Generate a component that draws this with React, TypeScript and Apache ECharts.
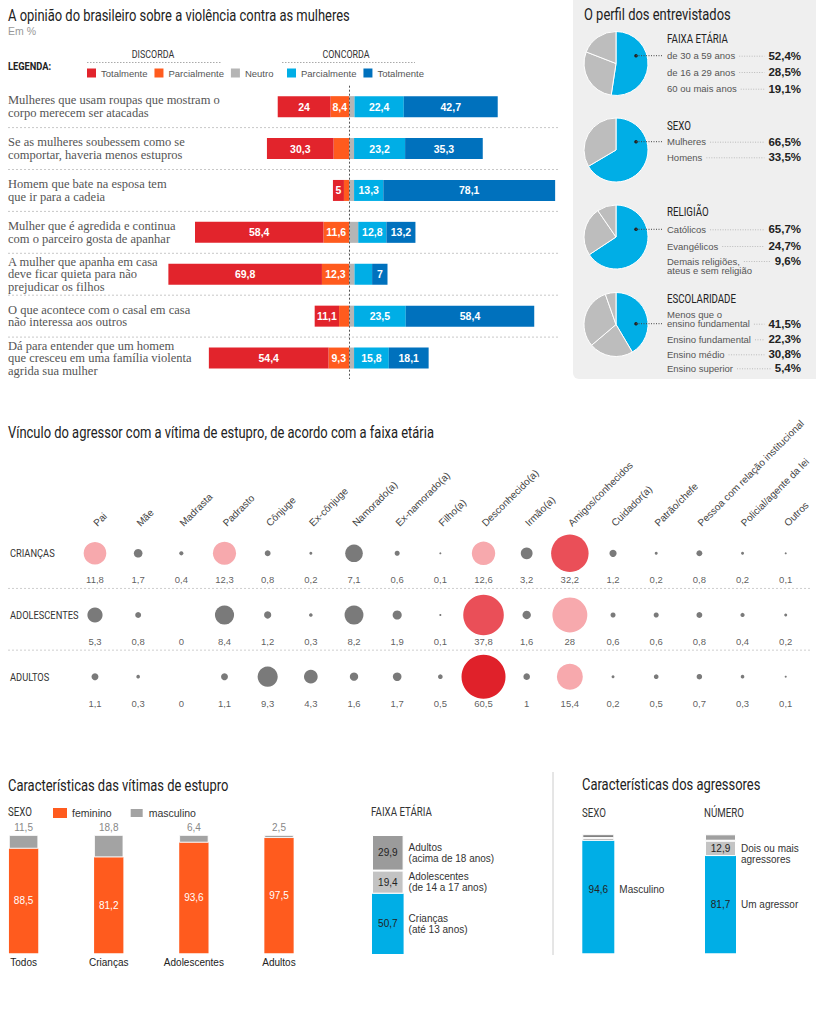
import React, { useEffect, useRef } from "react";
import * as echarts from "echarts";

// ---------------- DATA ----------------
const questions = [
  "Mulheres que usam roupas que mostram o\ncorpo merecem ser atacadas",
  "Se as mulheres soubessem como se\ncomportar, haveria menos estupros",
  "Homem que bate na esposa tem\nque ir para a cadeia",
  "Mulher que é agredida e continua\ncom o parceiro gosta de apanhar",
  "A mulher que apanha em casa\ndeve ficar quieta para não\nprejudicar os filhos",
  "O que acontece com o casal em casa\nnão interessa aos outros",
  "Dá para entender que um homem\nque cresceu em uma família violenta\nagrida sua mulher",
];
const discordaTotal = [24, 30.3, 5, 58.4, 69.8, 11.1, 54.4];
const discordaParcial = [8.4, 7, 2.3, 11.6, 12.3, 4.5, 9.3];
const neutro = [2.5, 2.3, 2.3, 4.2, 2.5, 2.3, 2.3];
const concordaParcial = [22.4, 23.2, 13.3, 12.8, 8, 23.5, 15.8];
const concordaTotal = [42.7, 35.3, 78.1, 13.2, 7, 58.4, 18.1];
// values whose number is printed in the reference (others)
const discordaParcialPrinted = [true, false, false, true, true, false, true];
const concordaParcialPrinted = [true, true, true, true, false, true, true];

const faixaEtariaLabels = ["de 30 a 59 anos", "de 16 a 29 anos", "60 ou mais anos"];
const faixaEtariaValues = [52.4, 28.5, 19.1];
const sexoLabels = ["Mulheres", "Homens"];
const sexoValues = [66.5, 33.5];
const religiaoLabels = ["Católicos", "Evangélicos", "Demais religiões,\nateus e sem religião"];
const religiaoValues = [65.7, 24.7, 9.6];
const escolaridadeLabels = ["Menos que o\nensino fundamental", "Ensino fundamental", "Ensino médio", "Ensino superior"];
const escolaridadeValues = [41.5, 22.3, 30.8, 5.4];

const vinculos = [
  "Pai", "Mãe", "Madrasta", "Padrasto", "Cônjuge", "Ex-cônjuge", "Namorado(a)", "Ex-namorado(a)",
  "Filho(a)", "Desconhecido(a)", "Irmão(a)", "Amigos/conhecidos", "Cuidador(a)", "Patrão/chefe",
  "Pessoa com relação institucional", "Policial/agente da lei", "Outros",
];
const faixas = ["CRIANÇAS", "ADOLESCENTES", "ADULTOS"];
const criancas = [11.8, 1.7, 0.4, 12.3, 0.8, 0.2, 7.1, 0.6, 0.1, 12.6, 3.2, 32.2, 1.2, 0.2, 0.8, 0.2, 0.1];
const adolescentes = [5.3, 0.8, 0, 8.4, 1.2, 0.3, 8.2, 1.9, 0.1, 37.8, 1.6, 28, 0.6, 0.6, 0.8, 0.4, 0.2];
const adultos = [1.1, 0.3, 0, 1.1, 9.3, 4.3, 1.6, 1.7, 0.5, 60.5, 1, 15.4, 0.2, 0.5, 0.7, 0.3, 0.1];

const vitimaCats = ["Todos", "Crianças", "Adolescentes", "Adultos"];
const vitimaFeminino = [88.5, 81.2, 93.6, 97.5];
const vitimaMasculino = [11.5, 18.8, 6.4, 2.5];

const faixaVitimaLabels = ["Crianças\n(até 13 anos)", "Adolescentes\n(de 14 a 17 anos)", "Adultos\n(acima de 18 anos)"];
const faixaVitimaValues = [50.7, 19.4, 29.9];

const agressorSexoLabels = ["Masculino", "", ""];
const agressorSexoValues = [94.6, 2.4, 3.0];
const agressorNumeroLabels = ["Um agressor", "Dois ou mais\nagressores", ""];
const agressorNumeroValues = [81.7, 12.9, 5.4];

// ---------------- STYLE ----------------
const W = 816;
const H = 1024;
const BLUE = "#00aee6";
const DBLUE = "#0071bd";
const RED = "#e2242c";
const ORANGE = "#ff5b1e";
const NEUTRAL = "#b5b5b5";
const SANS = '"Liberation Sans", Arial, sans-serif';
const SERIF = '"Liberation Serif", "Times New Roman", serif';
const COND = "Roboto, sans-serif";

const fmt = (v: number) => String(v).replace(".", ",");

export default function App() {
  const ref = useRef<HTMLDivElement>(null);

  useEffect(() => {
    const el = ref.current!;
    const chart = echarts.init(el, null, { renderer: "svg", width: W, height: H });
    const ctx = document.createElement("canvas").getContext("2d")!;
    const measure = (t: string, font: string) => {
      ctx.font = font;
      return ctx.measureText(t).width;
    };
    const title1 = "A opinião do brasileiro sobre a violência contra as mulheres";
    const k = 342 / measure(title1, "16px Roboto");

    const ctext = (text: string, x: number, y: number, size: number, o: any = {}) => ({
      type: "text",
      x,
      y,
      scaleX: k,
      silent: true,
      style: {
        text,
        x: 0,
        y: 0,
        fontSize: size,
        fontFamily: COND,
        fontWeight: o.bold ? "bold" : "normal",
        fill: o.fill || "#222",
        align: o.align || "left",
        verticalAlign: "middle",
      },
    });
    const ptext = (text: string, x: number, y: number, size: number, o: any = {}) => ({
      type: "text",
      x,
      y,
      silent: true,
      style: {
        text,
        x: 0,
        y: 0,
        fontSize: size,
        fontFamily: SANS,
        fontWeight: o.bold ? "bold" : "normal",
        fill: o.fill || "#555",
        align: o.align || "left",
        verticalAlign: "middle",
      },
    });
    const line = (x1: number, y1: number, x2: number, y2: number, stroke: string, dash?: number[]) => ({
      type: "line",
      silent: true,
      shape: { x1, y1, x2, y2 },
      style: { stroke, lineWidth: 1, lineDash: dash || null },
    });

    // ---- layout constants ----
    const divTop = 85.7;
    const divRow = 41.9;
    const divLeft = 162;
    const divWidth = 396;
    const bubTop = 528.6;
    const bubRow = 61.7;
    const bubMin = -0.4;
    const rowY = (r: number) => bubTop + (r - bubMin) * bubRow;

    const graphics: any[] = [];
    // right panel background
    graphics.push({
      type: "rect",
      silent: true,
      z: -10,
      shape: { x: 573, y: 0, width: 243, height: 379, r: [0, 0, 0, 6] },
      style: { fill: "#efefef" },
    });
    // section 1 header
    graphics.push(ctext(title1, 8, 16, 16));
    graphics.push(ptext("Em %", 8, 31, 10.5, { fill: "#999" }));
    graphics.push(ctext("LEGENDA:", 8, 66, 11.5, { bold: true }));
    graphics.push(ctext("DISCORDA", 153, 54, 11, { align: "center", fill: "#333" }));
    graphics.push(ctext("CONCORDA", 346, 54, 11, { align: "center", fill: "#333" }));
    graphics.push(line(87, 62.5, 222, 62.5, "#aaa", [1.5, 1.5]));
    graphics.push(line(282, 62.5, 415, 62.5, "#aaa", [1.5, 1.5]));
    for (let i = 1; i < questions.length; i++) {
      const y = divTop + i * divRow;
      graphics.push(line(8, y, 558, y, "#c8c8c8", [2, 2]));
    }

    // right panel
    graphics.push(ctext("O perfil dos entrevistados", 584, 15.5, 16));
    const blocks = [
      { title: "FAIXA ETÁRIA", labels: faixaEtariaLabels, values: faixaEtariaValues },
      { title: "SEXO", labels: sexoLabels, values: sexoValues },
      { title: "RELIGIÃO", labels: religiaoLabels, values: religiaoValues },
      { title: "ESCOLARIDADE", labels: escolaridadeLabels, values: escolaridadeValues },
    ];
    const pieCX = 616;
    const pieCY = [63.5, 150, 237, 324.5];
    const headY = [39, 126, 211.7, 298.7];
    const itemY = [[55.7, 72, 88.7], [141.7, 157.3], [229.3, 246, 261], [314, 339.3, 354.3, 368.3]];
    const valueLine = [[0, 0, 0], [0, 0], [0, 0, 0], [1, 0, 0, 0]];
    const LH = 9.7;
    const labelX = 667;
    const valueX = 801;
    const lblFont = '9.5px "Liberation Sans"';
    const valFont = 'bold 11.5px "Liberation Sans"';
    blocks.forEach((b, i) => {
      graphics.push(ctext(b.title, labelX, headY[i], 12));
      b.labels.forEach((lab, j) => {
        const lines = lab.split("\n");
        const y0 = itemY[i][j];
        lines.forEach((ln, l) => graphics.push(ptext(ln, labelX, y0 + l * LH, 9.5, { fill: "#555" })));
        const vl = valueLine[i][j];
        const vy = y0 + vl * LH;
        const vtxt = fmt(b.values[j]) + "%";
        graphics.push(ptext(vtxt, valueX, vy, 11.5, { bold: true, fill: "#222", align: "right" }));
        const x1 = labelX + measure(lines[vl], lblFont) + 4;
        const x2 = valueX - measure(vtxt, valFont) - 4;
        graphics.push(line(x1, vy + 0.5, x2, vy + 0.5, "#bbb", [1, 1.5]));
        if (j === 0) {
          graphics.push({ type: "circle", silent: true, z: 5, shape: { cx: 636, cy: vy, r: 1.8 }, style: { fill: "#222" } });
          graphics.push({ ...line(636, vy, 663, vy, "#444", [1, 1.5]), z: 5 });
        }
      });
    });

    // section 2
    graphics.push(ctext("Vínculo do agressor com a vítima de estupro, de acordo com a faixa etária", 8, 433, 16));
    faixas.forEach((f, r) => graphics.push(ctext(f, 10, rowY(r), 11.5, { fill: "#333" })));
    [0, 1].forEach((r) => {
      const y = rowY(r) + 0.57 * bubRow;
      graphics.push(line(8, y, 810, y, "#cfcfcf", [2, 2]));
    });

    // section 3
    graphics.push(ctext("Características das vítimas de estupro", 8, 786, 16));
    graphics.push(ctext("SEXO", 8, 812, 12, { fill: "#333" }));
    graphics.push(ctext("FAIXA ETÁRIA", 371, 812, 12, { fill: "#333" }));
    graphics.push(line(553, 772, 553, 955, "#cccccc"));
    graphics.push(ctext("Características dos agressores", 582, 785, 16));
    graphics.push(ctext("SEXO", 582, 812.7, 12, { fill: "#333" }));
    graphics.push(ctext("NÚMERO", 704, 812.7, 12, { fill: "#333" }));

    // ---------------- SERIES ----------------
    const series: any[] = [];
    const divBase = { type: "bar", xAxisIndex: 0, yAxisIndex: 0, stack: "div", barWidth: 21, silent: true };
    const divLabel = {
      show: true,
      position: "inside",
      color: "#fff",
      fontWeight: "bold",
      fontSize: 10.5,
      fontFamily: SANS,
      formatter: (p: any) => fmt(Math.abs(p.value)),
    };
    series.push({
      ...divBase,
      name: "Discorda parcialmente",
      itemStyle: { color: ORANGE },
      label: divLabel,
      data: discordaParcial.map((v, i) => ({ value: -v, label: { show: discordaParcialPrinted[i] } })),
    });
    series.push({
      ...divBase,
      name: "Discorda totalmente",
      itemStyle: { color: RED },
      label: divLabel,
      data: discordaTotal.map((v) => -v),
    });
    series.push({
      ...divBase,
      name: "Neutro",
      itemStyle: { color: NEUTRAL },
      label: { show: false },
      data: neutro,
      markLine: {
        silent: true,
        symbol: ["none", "none"],
        label: { show: false },
        lineStyle: { color: "#555", type: [2, 2], width: 1 },
        data: [{ xAxis: 0 }],
      },
    });
    series.push({
      ...divBase,
      name: "Concorda parcialmente",
      itemStyle: { color: BLUE },
      label: divLabel,
      data: concordaParcial.map((v, i) => ({ value: v, label: { show: concordaParcialPrinted[i] } })),
    });
    series.push({
      ...divBase,
      name: "Concorda totalmente",
      itemStyle: { color: DBLUE },
      label: divLabel,
      data: concordaTotal,
    });

    // pies
    blocks.forEach((b, i) => {
      series.push({
        type: "pie",
        name: b.title,
        center: [pieCX, pieCY[i]],
        radius: 32,
        startAngle: 90,
        clockwise: true,
        silent: true,
        label: { show: false },
        labelLine: { show: false },
        itemStyle: { borderColor: "#fff", borderWidth: 1 },
        data: b.values.map((v, j) => ({ name: b.labels[j], value: v, itemStyle: { color: j === 0 ? BLUE : "#bdbdbd" } })),
      });
    });

    // bubbles
    const bubbleColor = (v: number) => (v >= 50 ? "#e0212a" : v >= 30 ? "#ea4f58" : v >= 10 ? "#f7a9ad" : "#7a7a7a");
    const rows = [criancas, adolescentes, adultos];
    const bubbleData: any[] = [];
    const valueData: any[] = [];
    rows.forEach((arr, r) =>
      arr.forEach((v, c) => {
        if (v > 0) bubbleData.push([c, r, v]);
        valueData.push([c, r + 0.43, v]);
      })
    );
    series.push({
      type: "scatter",
      name: "bolhas",
      xAxisIndex: 1,
      yAxisIndex: 1,
      silent: true,
      clip: false,
      data: bubbleData,
      symbolSize: (d: any) => Math.min(6.6 * Math.sqrt(d[2]), 44),
      itemStyle: { color: (p: any) => bubbleColor(p.value[2]), opacity: 1 },
    });
    series.push({
      type: "scatter",
      name: "valores",
      xAxisIndex: 1,
      yAxisIndex: 1,
      silent: true,
      clip: false,
      data: valueData,
      symbolSize: 1,
      itemStyle: { color: "rgba(0,0,0,0)" },
      label: {
        show: true,
        position: "inside",
        color: "#333",
        fontSize: 9.5,
        fontFamily: SANS,
        formatter: (p: any) => fmt(p.value[2]),
      },
    });

    // victims by sex
    series.push({
      type: "bar",
      name: "feminino",
      xAxisIndex: 2,
      yAxisIndex: 2,
      stack: "vit",
      barWidth: 29.3,
      clip: false,
      silent: true,
      data: vitimaFeminino,
      itemStyle: { color: ORANGE },
      label: { show: true, position: "inside", color: "#fff", fontSize: 10, fontFamily: SANS, formatter: (p: any) => fmt(p.value) },
    });
    series.push({
      type: "bar",
      name: "masculino",
      xAxisIndex: 2,
      yAxisIndex: 2,
      stack: "vit",
      barWidth: 29.3,
      clip: false,
      silent: true,
      data: vitimaMasculino,
      itemStyle: { color: "#a3a3a3", borderColor: "#fff", borderWidth: 0.8 },
      label: { show: true, position: "top", distance: 3, color: "#888", fontSize: 10, fontFamily: SANS, formatter: (p: any) => fmt(p.value) },
    });

    const singleStack = (
      ax: number,
      values: number[],
      colors: string[],
      names: string[],
      printed: boolean[],
      valueOffsets: number[][],
      labelOffsets: number[][],
      bw: number
    ) => {
      values.forEach((v, i) => {
        series.push({
          type: "bar",
          name: `seg${ax}-${i}`,
          xAxisIndex: ax,
          yAxisIndex: ax,
          stack: `st${ax}`,
          barWidth: bw,
          barGap: "-100%",
          silent: true,
          clip: false,
          itemStyle: { color: colors[i], borderColor: "#fff", borderWidth: i > 0 ? 1 : 0 },
          label: {
            show: printed[i],
            position: "inside",
            color: "#222",
            fontSize: 10,
            fontFamily: SANS,
            offset: valueOffsets[i],
            formatter: () => fmt(v),
          },
          data: [v],
        });
      });
      values.forEach((v, i) => {
        series.push({
          type: "bar",
          name: `lab${ax}-${i}`,
          xAxisIndex: ax,
          yAxisIndex: ax,
          stack: `ov${ax}`,
          barWidth: bw,
          barGap: "-100%",
          silent: true,
          clip: false,
          itemStyle: { color: "rgba(0,0,0,0)" },
          label: {
            show: names[i] !== "",
            position: "right",
            distance: 5,
            color: "#333",
            fontSize: 10,
            lineHeight: 11,
            fontFamily: SANS,
            offset: labelOffsets[i],
            formatter: () => names[i],
          },
          data: [v],
        });
      });
    };
    singleStack(3, faixaVitimaValues, [BLUE, "#c3c3c3", "#9b9b9b"], faixaVitimaLabels, [true, true, true],
      [[0, 0], [0, 0], [0, 0]], [[0, 0], [0, 0], [0, 0]], 31.6);
    singleStack(4, agressorSexoValues, [BLUE, "#a8a8a8", "#6e6e6e"], agressorSexoLabels, [true, false, false],
      [[0, -8], [0, 0], [0, 0]], [[0, -8], [0, 0], [0, 0]], 32);
    singleStack(5, agressorNumeroValues, [BLUE, "#c4c4c4", "#a0a0a0"], agressorNumeroLabels, [true, true, false],
      [[0, 0], [0, 0], [0, 0]], [[0, 0], [0, 5.5], [0, 0]], 31);

    const legendNames: Record<string, string> = {
      "Discorda totalmente": "Totalmente",
      "Discorda parcialmente": "Parcialmente",
      Neutro: "Neutro",
      "Concorda parcialmente": "Parcialmente",
      "Concorda totalmente": "Totalmente",
    };
    const legendBase = {
      orient: "horizontal",
      selectedMode: false,
      icon: "rect",
      itemWidth: 9,
      itemHeight: 9,
      itemGap: 7,
      padding: 0,
      formatter: (n: string) => legendNames[n] || n,
      textStyle: { color: "#555", fontSize: 9.5, fontFamily: SANS },
    };

    const hiddenCat = (gi: number) => ({ gridIndex: gi, type: "category", data: [""], show: false });
    const hiddenVal = (gi: number) => ({ gridIndex: gi, type: "value", min: 0, max: 100, show: false });

    const option: any = {
      animation: false,
      backgroundColor: "#fff",
      textStyle: { fontFamily: SANS },
      legend: [
        { ...legendBase, left: 87, top: 68, data: ["Discorda totalmente", "Discorda parcialmente", "Neutro"] },
        { ...legendBase, left: 287, top: 68, data: ["Concorda parcialmente", "Concorda totalmente"] },
        {
          ...legendBase,
          left: 53,
          top: 807,
          itemWidth: 14,
          itemHeight: 10,
          itemGap: 17,
          data: ["feminino", "masculino"],
          textStyle: { color: "#333", fontSize: 10.5, fontFamily: SANS },
        },
      ],
      grid: [
        { left: divLeft, top: divTop, width: divWidth, height: divRow * questions.length },
        { left: 73.4, top: bubTop, width: 733.9, height: 206.7 },
        { left: 23.6, top: 835, width: 255.4, height: 118.3 },
        { left: 372, top: 835, width: 31.6, height: 119 },
        { left: 582.3, top: 834.3, width: 32, height: 119 },
        { left: 705, top: 834.3, width: 31, height: 119 },
      ],
      xAxis: [
        { gridIndex: 0, type: "value", min: -85, max: 95, show: false },
        {
          gridIndex: 1,
          type: "category",
          data: vinculos,
          position: "top",
          axisLine: { show: false },
          axisTick: { show: false },
          axisLabel: { interval: 0, rotate: 45, margin: 4, color: "#444", fontSize: 10, fontFamily: SANS },
        },
        {
          gridIndex: 2,
          type: "category",
          data: vitimaCats,
          boundaryGap: false,
          axisLine: { show: false },
          axisTick: { show: false },
          axisLabel: { interval: 0, margin: 4, color: "#222", fontSize: 10, fontFamily: SANS },
        },
        hiddenCat(3),
        hiddenCat(4),
        hiddenCat(5),
      ],
      yAxis: [
        {
          gridIndex: 0,
          type: "category",
          data: questions,
          inverse: true,
          axisLine: { show: false },
          axisTick: { show: false },
          splitLine: { show: false },
          axisLabel: {
            interval: 0,
            margin: divLeft - 8,
            align: "left",
            color: "#555",
            fontSize: 12.5,
            lineHeight: 12.5,
            fontFamily: SERIF,
          },
        },
        { gridIndex: 1, type: "value", min: bubMin, max: 2.95, inverse: true, show: false },
        hiddenVal(2),
        hiddenVal(3),
        hiddenVal(4),
        hiddenVal(5),
      ],
      graphic: { elements: graphics },
      series,
    };
    chart.setOption(option);
    return () => chart.dispose();
  }, []);

  return <div ref={ref} style={{ position: "absolute", left: 0, top: 0, width: W, height: H, background: "#fff" }} />;
}
